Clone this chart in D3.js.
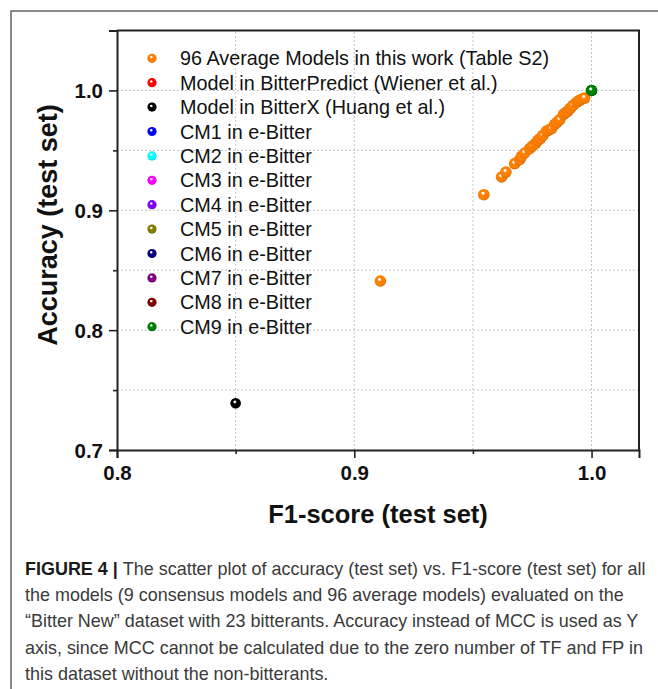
<!DOCTYPE html>
<html>
<head>
<meta charset="utf-8">
<script src="https://cdn.jsdelivr.net/npm/d3@7"></script>
<style>
  body { margin: 0; background: #fff; }
  svg { display: block; font-family: "Liberation Sans", Arial, sans-serif; }
</style>
</head>
<body>
<div id="root"></div>
<script>
// series
const legendNames = [
  "96 Average Models in this work (Table S2)",
  "Model in BitterPredict (Wiener et al.)",
  "Model in BitterX (Huang et al.)",
  "CM1 in e-Bitter", "CM2 in e-Bitter", "CM3 in e-Bitter", "CM4 in e-Bitter",
  "CM5 in e-Bitter", "CM6 in e-Bitter", "CM7 in e-Bitter", "CM8 in e-Bitter",
  "CM9 in e-Bitter"
];
const seriesColors = [
  "#ff8000", "#ff0000", "#000000", "#0000ff", "#00ffff", "#ff00ff",
  "#8000ff", "#808000", "#000080", "#800080", "#800000", "#008000"
];

// 96 average models (F1, accuracy)
const avgF1 = [0.911, 0.9546, 0.9621, 0.9639, 0.9676, 0.9697, 0.9705, 0.9718, 0.9739,
  0.9750, 0.9765, 0.9774, 0.9785, 0.9795, 0.9810, 0.9820, 0.9831, 0.9845, 0.9855,
  0.9866, 0.9882, 0.9890, 0.9900, 0.9910, 0.9922, 0.9938, 0.9948, 0.9957, 0.9971];
const avgAcc = [0.841, 0.913, 0.9278, 0.9319, 0.9389, 0.9422, 0.9450, 0.9478, 0.9514,
  0.9535, 0.9561, 0.9583, 0.9600, 0.9625, 0.9661, 0.9670, 0.9681, 0.9717, 0.9735,
  0.9756, 0.9800, 0.9815, 0.9828, 0.9850, 0.9875, 0.9903, 0.9915, 0.9925, 0.9936];

// single models: [series index, F1, accuracy]
const singleModels = [
  [1, 1.0, 1.0], [2, 0.85, 0.739], [3, 1.0, 1.0], [4, 1.0, 1.0], [5, 1.0, 1.0],
  [6, 1.0, 1.0], [7, 1.0, 1.0], [8, 1.0, 1.0], [9, 1.0, 1.0], [10, 1.0, 1.0],
  [11, 1.0, 1.0]
];

const xTicks = [0.8, 0.9, 1.0];
const xMinor = [0.85, 0.95];
const yTicks = [0.7, 0.8, 0.9, 1.0];
const yMinor = [0.75, 0.85, 0.95];

const captionLines = [
  "The scatter plot of accuracy (test set) vs. F1-score (test set) for all",
  "the models (9 consensus models and 96 average models) evaluated on the",
  "\u201cBitter New\u201d dataset with 23 bitterants. Accuracy instead of MCC is used as Y",
  "axis, since MCC cannot be calculated due to the zero number of TF and FP in",
  "this dataset without the non-bitterants."
];

const width = 658, height = 689;
const svg = d3.select("#root").append("svg")
  .attr("width", width).attr("height", height);

// outer figure border (top and left)
svg.append("path")
  .attr("d", "M11,689 V11 H658")
  .attr("fill", "none").attr("stroke", "#666").attr("stroke-width", 1.5);

const x = d3.scaleLinear().domain([0.8, 1.02]).range([117, 639]);
const y = d3.scaleLinear().domain([0.7, 1.05]).range([450, 30.5]);

// gradients for the glossy balls
const defs = svg.append("defs");
seriesColors.forEach((c, i) => {
  const g = defs.append("radialGradient").attr("id", "ball" + i)
    .attr("cx", "50%").attr("cy", "50%").attr("r", "55%")
    .attr("fx", "40%").attr("fy", "33%");
  g.append("stop").attr("offset", "0%").attr("stop-color", "#fff");
  g.append("stop").attr("offset", "14%").attr("stop-color", "#fff").attr("stop-opacity", 0.9);
  g.append("stop").attr("offset", "32%").attr("stop-color", c);
  g.append("stop").attr("offset", "75%").attr("stop-color", c);
  g.append("stop").attr("offset", "100%").attr("stop-color", d3.color(c).darker(0.8));
});

// grid
const grid = svg.append("g").attr("stroke", "#c4c4c4").attr("stroke-dasharray", "2,2").attr("stroke-width", 1);
grid.selectAll("line.gx").data(xTicks.concat(xMinor).filter(d => d > 0.8))
  .join("line").attr("x1", d => x(d)).attr("x2", d => x(d))
  .attr("y1", y(0.7)).attr("y2", y(1.05));
grid.selectAll("line.gy").data(yTicks.concat(yMinor).filter(d => d > 0.7))
  .join("line").attr("class", "gy").attr("y1", d => y(d)).attr("y2", d => y(d))
  .attr("x1", x(0.8)).attr("x2", x(1.02));

// axes
svg.append("g").attr("transform", `translate(0,${y(0.7)})`)
  .call(d3.axisBottom(x).tickValues(xTicks).tickFormat(d3.format(".1f")).tickSize(8).tickPadding(7));
svg.append("g").attr("transform", `translate(0,${y(0.7)})`)
  .call(d3.axisBottom(x).tickValues(xMinor).tickFormat("").tickSize(4))
  .call(g => g.select(".domain").remove());
const yAxis = svg.append("g").attr("transform", `translate(${x(0.8)},0)`)
  .call(d3.axisLeft(y).tickValues(yTicks).tickFormat(d3.format(".1f")).tickSize(8).tickPadding(6));
svg.append("g").attr("transform", `translate(${x(0.8)},0)`)
  .call(d3.axisLeft(y).tickValues(yMinor).tickFormat("").tickSize(4))
  .call(g => g.select(".domain").remove());

svg.selectAll(".tick line").attr("stroke", "#222").attr("stroke-width", 1.6);
svg.selectAll(".domain").attr("stroke", "#222").attr("stroke-width", 2);
svg.selectAll(".tick text")
  .attr("font-family", "Liberation Sans, Arial, sans-serif")
  .attr("font-size", 20.5).attr("font-weight", "bold").attr("fill", "#111");
yAxis.selectAll(".tick text").attr("dy", "0.36em");

// top and right frame
svg.append("path")
  .attr("d", `M${x(0.8)},${y(1.05)} H${x(1.02)} V${y(0.7)}`)
  .attr("fill", "none").attr("stroke", "#222").attr("stroke-width", 2);

// axis titles
svg.append("text")
  .attr("x", (x(0.8) + x(1.02)) / 2).attr("y", 523)
  .attr("text-anchor", "middle").attr("font-size", 25.5).attr("font-weight", "bold")
  .attr("fill", "#111").text("F1-score (test set)");
svg.append("text")
  .attr("transform", `translate(57,225) rotate(-90)`)
  .attr("text-anchor", "middle").attr("font-size", 27).attr("font-weight", "bold")
  .attr("fill", "#111").text("Accuracy (test set)");

// legend
const legend = svg.append("g");
legendNames.forEach((name, i) => {
  const ly = 58.3 + i * 24.4;
  legend.append("circle").attr("cx", 152).attr("cy", ly).attr("r", 4.6)
    .attr("fill", `url(#ball${i})`);
  legend.append("text").attr("x", 180).attr("y", ly).attr("dy", "0.36em")
    .attr("font-size", 19.8).attr("fill", "#111").text(name);
});

// points
const pts = svg.append("g");
pts.selectAll("circle.single").data(singleModels)
  .join("circle").attr("class", "single")
  .attr("cx", d => x(d[1])).attr("cy", d => y(d[2])).attr("r", 5.3)
  .attr("fill", d => `url(#ball${d[0]})`);
pts.selectAll("circle.avg").data(avgF1.map((f, i) => [f, avgAcc[i]]))
  .join("circle").attr("class", "avg")
  .attr("cx", d => x(d[0])).attr("cy", d => y(d[1])).attr("r", 5.8)
  .attr("fill", "url(#ball0)");
// CM9 drawn on top
pts.append("circle").attr("cx", x(1.0)).attr("cy", y(1.0)).attr("r", 5.8)
  .attr("fill", "url(#ball11)");

// caption
const cap = svg.append("g");
const capText = cap.append("text").attr("font-size", 18).attr("fill", "#3a3a3a");
captionLines.forEach((line, i) => {
  const t = capText.append("tspan").attr("x", 0).attr("y", 575 + i * 26.2);
  if (i === 0) {
    t.append("tspan").attr("font-weight", "bold").attr("fill", "#1a1a1a").text("FIGURE 4 | ");
    t.append("tspan").text(line);
  } else {
    t.text(line);
  }
});
const w1 = capText.select("tspan").node().getComputedTextLength();
const k = 621 / w1;
cap.attr("transform", `translate(25,0) scale(${k},1)`);
</script>
</body>
</html>
